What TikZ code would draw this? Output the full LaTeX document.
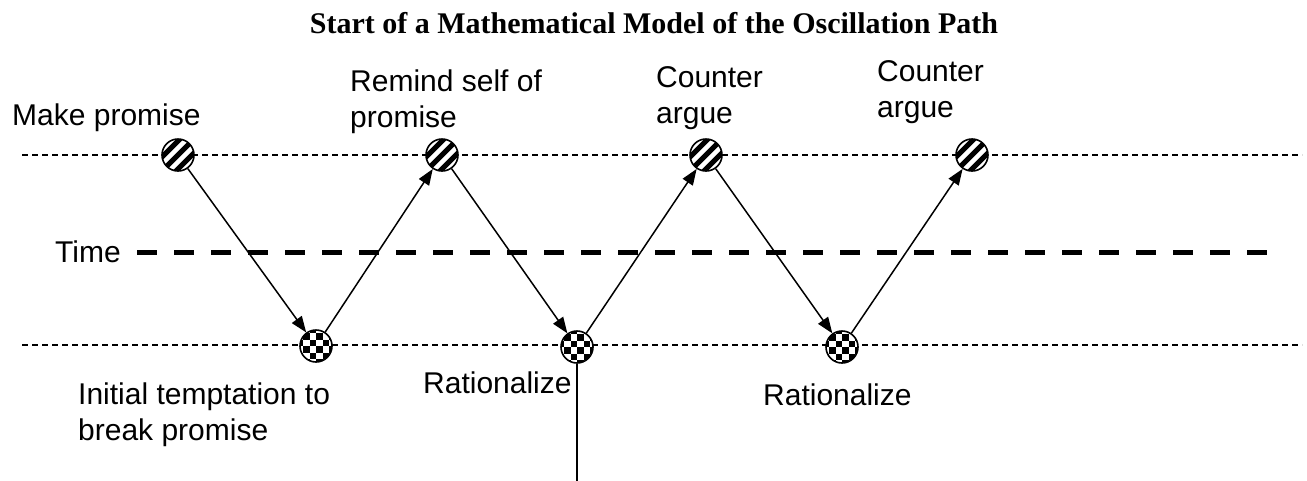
\documentclass[tikz,border=0pt]{standalone}
\usepackage{fontspec}
\setmainfont{Liberation Sans}
\newfontfamily\titlefont{Liberation Serif}
\usetikzlibrary{arrows.meta}
\tikzset{
  lbl/.style={font=\fontsize{30}{36}\selectfont, inner sep=0pt, anchor=base west, align=left},
  titlestyle/.style={font=\titlefont\bfseries\fontsize{30}{36}\selectfont, inner sep=0pt, anchor=base},
  thindash/.style={line width=1.3pt, dash pattern=on 6pt off 4pt},
  timedash/.style={line width=5pt, dash pattern=on 20pt off 17pt},
  conn/.style={line width=1.5pt, -{Triangle[length=16pt,width=12pt]}},
  plainconn/.style={line width=1.5pt},
  striped/.style={circle, draw, line width=1.6pt, fill=white, minimum size=32pt, inner sep=0pt,
    path picture={
      \foreach \k in {-3,...,3} {
        \draw[black, line width=5pt, shift={(path picture bounding box.center)}]
          (\k*7-20,\k*7+20) -- (\k*7+20,\k*7-20);
      }
    }},
  checker/.style={circle, draw, line width=1.6pt, fill=white, minimum size=32pt, inner sep=0pt,
    path picture={
      \foreach \i in {-3,...,2} {
        \foreach \j in {-3,...,2} {
          \pgfmathtruncatemacro\cpar{mod(\i+\j+10,2)}
          \ifnum\cpar=0
            \fill[black, shift={(path picture bounding box.center)}] (\i*6.5,\j*6.5) rectangle ++(6.5,6.5);
          \fi
        }
      }
    }},
}
\begin{document}
\begin{tikzpicture}[x=1pt,y=-1pt]
\useasboundingbox (0,0) rectangle (1307,480);
\node[titlestyle] (title) at (654,33) {Start of a Mathematical Model of the Oscillation Path};
% guide lines
\coordinate (tl) at (22,155); \coordinate (tr) at (1302,155);
\coordinate (bl) at (22,345); \coordinate (br) at (1302,345);
\draw[thindash] (tl) -- (tr);
\draw[thindash] (bl) -- (br);
\node[lbl] (time) at (55,262) {Time};
\coordinate (ts) at (137,252); \coordinate (te) at (1270,252);
\draw[timedash] (ts) -- (te);
% points
\node[striped] (t1) at (178,155) {};
\node[striped] (t2) at (442,155) {};
\node[striped] (t3) at (706,155) {};
\node[striped] (t4) at (972,155) {};
\node[checker] (b1) at (316,346) {};
\node[checker] (b2) at (577,347) {};
\node[checker] (b3) at (842,347) {};
% connectors
\draw[conn] (t1) -- (b1);
\draw[conn] (b1) -- (t2);
\draw[conn] (t2) -- (b2);
\draw[conn] (b2) -- (t3);
\draw[conn] (t3) -- (b3);
\draw[conn] (b3) -- (t4);
\coordinate (vend) at (577,482);
\draw[plainconn] (b2.south) -- (vend);
% labels (multi-line nodes: base = last line)
\node[lbl] (l1) at (12,125) {Make promise};
\node[lbl] (l2) at (350,127) {Remind self of\\promise};
\node[lbl] (l3) at (656,123) {Counter\\argue};
\node[lbl] (l4) at (877,117) {Counter\\argue};
\node[lbl] (l5) at (78,440) {Initial temptation to\\break promise};
\node[lbl] (l6) at (423,393) {Rationalize};
\node[lbl] (l7) at (763,405) {Rationalize};
\end{tikzpicture}
\end{document}
